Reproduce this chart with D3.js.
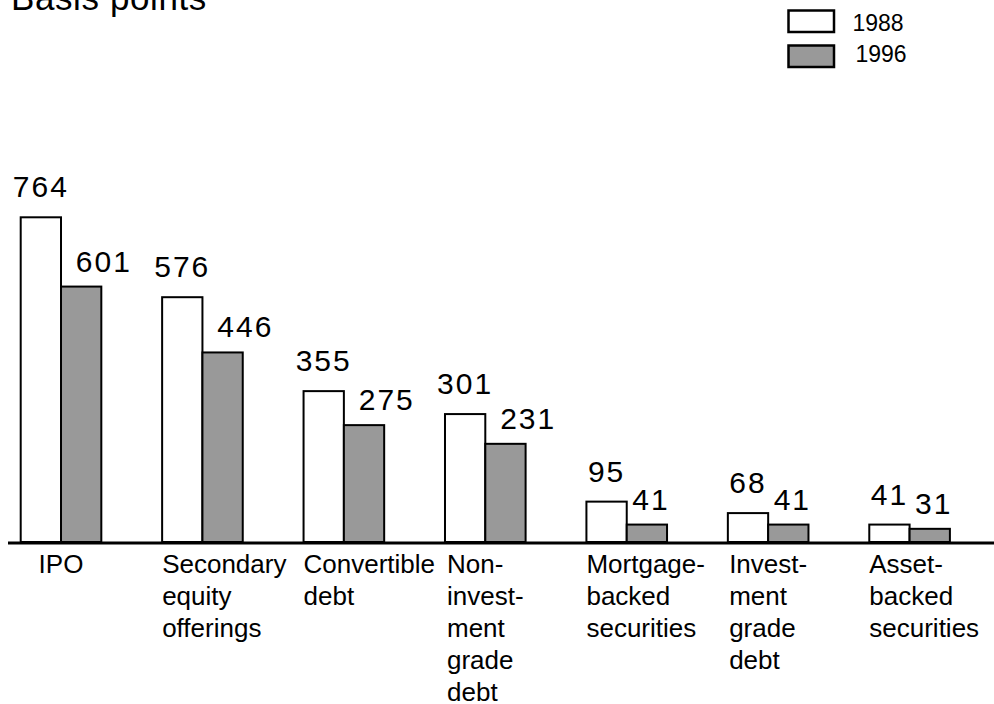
<!DOCTYPE html>
<html>
<head>
<meta charset="utf-8">
<script src="https://cdn.jsdelivr.net/npm/d3@7"></script>
<style>
  html, body { margin: 0; padding: 0; background: #fff; }
  svg { display: block; font-family: "Liberation Sans", Arial, Helvetica, sans-serif; }
</style>
</head>
<body>
<svg id="chart" width="994" height="704"></svg>
<script>
// ---- data ----
const categories = ["IPO", "Secondary equity offerings", "Convertible debt", "Non-investment grade debt",
                    "Mortgage-backed securities", "Investment grade debt", "Asset-backed securities"];
const categoryLines = [
  ["IPO"],
  ["Secondary", "equity", "offerings"],
  ["Convertible", "debt"],
  ["Non-", "invest-", "ment", "grade", "debt"],
  ["Mortgage-", "backed", "securities"],
  ["Invest-", "ment", "grade", "debt"],
  ["Asset-", "backed", "securities"]
];
const seriesNames = ["1988", "1996"];
const values1988 = [764, 576, 355, 301, 95, 68, 41];
const values1996 = [601, 446, 275, 231, 41, 41, 31];
const yTitle = "Basis points";

// ---- layout ----
const svg = d3.select("#chart");
const fills = { "1988": "#ffffff", "1996": "#999999" };
const baseY = 542;

const x = d3.scaleBand().domain(categories).range([20.7, 949.9]).paddingInner(0.43).paddingOuter(0);
const xs = d3.scaleBand().domain(seriesNames).range([0, x.bandwidth()]).padding(0);
const y = d3.scaleLinear().domain([0, 764]).range([baseY, 217.3]);

const rows = categories.map((c, i) => ({ cat: c, lines: categoryLines[i], v: { "1988": values1988[i], "1996": values1996[i] } }));

// title
svg.append("text").attr("x", 11).attr("y", 10)
  .attr("font-size", 35).attr("letter-spacing", 0.6).attr("fill", "#000").text(yTitle);

// bars
const groups = svg.append("g").selectAll("g").data(rows).join("g")
  .attr("transform", d => `translate(${x(d.cat)},0)`);

groups.selectAll("rect").data(d => seriesNames.map(s => ({ s, v: d.v[s] }))).join("rect")
  .attr("x", d => xs(d.s))
  .attr("y", d => y(d.v))
  .attr("width", xs.bandwidth())
  .attr("height", d => baseY - y(d.v))
  .attr("fill", d => fills[d.s])
  .attr("stroke", "#000")
  .attr("stroke-width", 2);

// value labels
groups.each(function(d) {
  const g = d3.select(this);
  const wCenter = xs("1988") + xs.bandwidth() / 2;
  const t1 = g.append("text")
    .attr("x", wCenter).attr("y", y(d.v["1988"]) - 20)
    .attr("text-anchor", "middle").attr("font-size", 30).attr("letter-spacing", 2)
    .text(d.v["1988"]);
  const w1 = t1.node().getComputedTextLength();
  g.append("text")
    .attr("x", wCenter + w1 / 2 + 7).attr("y", y(d.v["1996"]) - 15)
    .attr("text-anchor", "start").attr("font-size", 30).attr("letter-spacing", 2)
    .text(d.v["1996"]);
});

// axis line
svg.append("line").attr("x1", 8).attr("x2", 994).attr("y1", baseY + 1).attr("y2", baseY + 1)
  .attr("stroke", "#000").attr("stroke-width", 3);

// category labels
const labelG = svg.append("g");
rows.forEach(d => {
  const t = labelG.append("text").attr("font-size", 26).attr("fill", "#000");
  d.lines.forEach((ln, j) => {
    t.append("tspan").attr("y", 573.3 + j * 31.8).text(ln);
  });
  let maxW = 0;
  t.selectAll("tspan").each(function() { maxW = Math.max(maxW, this.getComputedTextLength()); });
  const left = Math.max(x(d.cat), x(d.cat) + x.bandwidth() / 2 - maxW / 2);
  t.selectAll("tspan").attr("x", left);
});

// legend
const legend = svg.append("g");
seriesNames.forEach((s, i) => {
  legend.append("rect").attr("x", 788.5).attr("y", 10.5 + i * 35).attr("width", 45.5).attr("height", 21.5)
    .attr("fill", fills[s]).attr("stroke", "#000").attr("stroke-width", 2.5);
  legend.append("text").attr("x", 852.5 + i * 3).attr("y", 30.5 + i * 31.5)
    .attr("font-size", 23).attr("fill", "#000").text(s);
});
</script>
</body>
</html>
